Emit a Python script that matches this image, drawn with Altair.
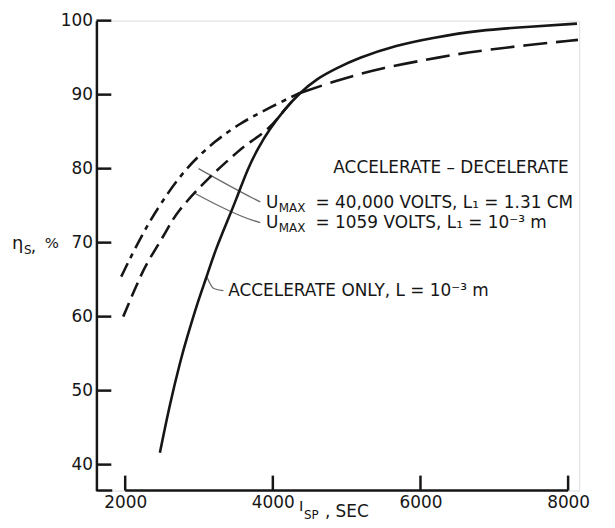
import altair as alt
import pandas as pd

# ---------------- data ----------------
# Accelerate only, L = 10^-3 m (solid)
acc_only_isp = [2470, 2600, 2752, 2832, 2993, 3087, 3221, 3396, 3490, 3664, 3800, 3960,
                4150, 4360, 4600, 4870, 5140, 5680, 6170, 6790, 7500, 8120]
acc_only_eta = [41.6, 48.0, 54.2, 57.0, 62.3, 64.9, 69.0, 73.2, 75.5, 80.1, 82.8, 85.4,
                87.9, 90.2, 92.2, 93.6, 94.9, 96.7, 97.7, 98.7, 99.2, 99.6]

# Accelerate-decelerate, Umax = 40,000 V, L1 = 1.31 cm (dash-dot, up to the crossing)
u40k_isp = [1946, 2121, 2300, 2480, 2819, 3221, 3570, 3800, 4107, 4360]
u40k_eta = [65.4, 69.0, 72.3, 75.3, 80.1, 83.8, 86.2, 87.4, 89.0, 90.2]

# Accelerate-decelerate, Umax = 1059 V, L1 = 10^-3 m (dashed, up to the crossing)
u1059_isp = [1973, 2228, 2322, 2564, 2685, 3128, 3570, 3664, 3960, 4150, 4360]
u1059_eta = [60.0, 66.0, 67.7, 71.6, 74.0, 78.8, 82.7, 83.4, 85.4, 87.9, 90.2]

# both accelerate-decelerate curves coincide beyond the crossing (dashed)
common_isp = [4360, 4832, 5450, 6349, 6577, 7248, 8134]
common_eta = [90.2, 91.8, 93.6, 95.2, 95.6, 96.5, 97.4]

x_ticks = [2000, 4000, 6000, 8000]
y_ticks = [40, 50, 60, 70, 80, 90, 100]

# axis line pieces along the bottom (foot at the corner, then main line)
xline_start = [1610, 2000]
xline_end = [1825, 8000]

# leader lines (label -> curve)
leader_id = ["a", "a", "a", "b", "b", "b", "c", "c", "c"]
leader_isp = [2993, 3730, 3830, 2953, 3730, 3830, 3110, 3200, 3330]
leader_eta = [80.0, 76.0, 75.5, 76.6, 73.0, 72.7, 65.3, 63.8, 63.5]

# ---------------- styling ----------------
FONT = "DejaVu Sans"
INK = "#161616"
W, H = 486, 473
xs = alt.Scale(domain=[1610, 8150], nice=False, zero=False)
ys = alt.Scale(domain=[36.5, 100], nice=False, zero=False)

x_axis = alt.Axis(values=x_ticks, domain=False, ticks=False, grid=False, labelPadding=4,
                  labelFontSize=17, labelFont=FONT, labelColor=INK, title=None, format="d")
y_axis = alt.Axis(values=y_ticks, domain=True, domainColor=INK, domainWidth=2.5, ticks=False,
                  grid=False, labelPadding=4, labelFontSize=17, labelFont=FONT,
                  labelColor=INK, title=None, format="d")


def curve(xv, yv, dash=None):
    df = pd.DataFrame({"isp": xv, "eta": yv})
    kw = dict(color=INK, strokeWidth=2.6, interpolate="basis", strokeCap="butt")
    if dash:
        kw["strokeDash"] = dash
    return alt.Chart(df).mark_line(**kw).encode(
        x=alt.X("isp:Q", scale=xs, axis=x_axis),
        y=alt.Y("eta:Q", scale=ys, axis=y_axis),
    )


def label(x, y, text, size=17, dx=0, dy=0):
    return alt.Chart(pd.DataFrame({"t": [text]})).mark_text(
        font=FONT, fontSize=size, color=INK, align="left", baseline="middle", dx=dx, dy=dy
    ).encode(x=alt.datum(x), y=alt.datum(y), text="t:N")


def plabel(px, py, text, size=17):
    return alt.Chart(pd.DataFrame({"t": [text]})).mark_text(
        font=FONT, fontSize=size, color=INK, align="left", baseline="middle"
    ).encode(x=alt.value(px), y=alt.value(py), text="t:N")


solid = curve(acc_only_isp, acc_only_eta)
upper = curve(u40k_isp, u40k_eta, [15, 6, 5, 6])
lower = curve(u1059_isp, u1059_eta, [15, 7])
common = curve(common_isp, common_eta, [24, 9])

xline = alt.Chart(pd.DataFrame({"a": xline_start, "b": xline_end})).mark_rule(
    color=INK, strokeWidth=2.5).encode(
    x=alt.X("a:Q", scale=xs, axis=x_axis), x2="b:Q", y=alt.value(H))

xtick_rules = alt.Chart(pd.DataFrame({"v": x_ticks})).mark_rule(
    color=INK, strokeWidth=2.5).encode(
    x=alt.X("v:Q", scale=xs, axis=x_axis), y=alt.value(H), y2=alt.value(H - 15))

ytick_rules = alt.Chart(pd.DataFrame({"v": y_ticks})).mark_rule(
    color=INK, strokeWidth=2.5).encode(
    y=alt.Y("v:Q", scale=ys, axis=y_axis), x=alt.value(0), x2=alt.value(15))

leaders = alt.Chart(pd.DataFrame({"id": leader_id, "isp": leader_isp, "eta": leader_eta})).mark_line(
    color="#6a6a6a", strokeWidth=1.3, interpolate="monotone").encode(
    x=alt.X("isp:Q", scale=xs, axis=x_axis), y=alt.Y("eta:Q", scale=ys, axis=y_axis),
    detail="id:N")

texts = [
    label(4820, 80.1, "ACCELERATE – DECELERATE"),
    label(3906, 75.4, "U"),
    label(3906, 75.4, "MAX", size=12, dx=13, dy=5),
    label(3906, 75.4, "= 40,000  VOLTS, L₁ = 1.31 CM", dx=50),
    label(3906, 72.6, "U"),
    label(3906, 72.6, "MAX", size=12, dx=13, dy=5),
    label(3906, 72.6, "= 1059  VOLTS, L₁ = 10⁻³ m", dx=50),
    label(3396, 63.4, "ACCELERATE  ONLY,  L = 10⁻³ m"),
    # y title  eta_S, %
    plabel(-85, 225, "η", 18),
    plabel(-73, 231, "S", 12),
    plabel(-66, 228, ",", 17),
    plabel(-52, 224, "%", 15),
    # x title  I_SP, SEC
    plabel(204, 489, "I", 15),
    plabel(209, 498, "SP", 12),
    plabel(230, 495, ", SEC", 17),
]

chart = alt.layer(
    xline, xtick_rules, ytick_rules, leaders, lower, upper, common, solid, *texts
).properties(
    width=W, height=H,
    autosize=alt.AutoSizeParams(type="none"),
    padding={"left": 89, "top": 11, "right": 28, "bottom": 34},
).configure_view(stroke=None).configure(background="white")

chart.save("out.html", embed_options={"renderer": "svg", "actions": False})
